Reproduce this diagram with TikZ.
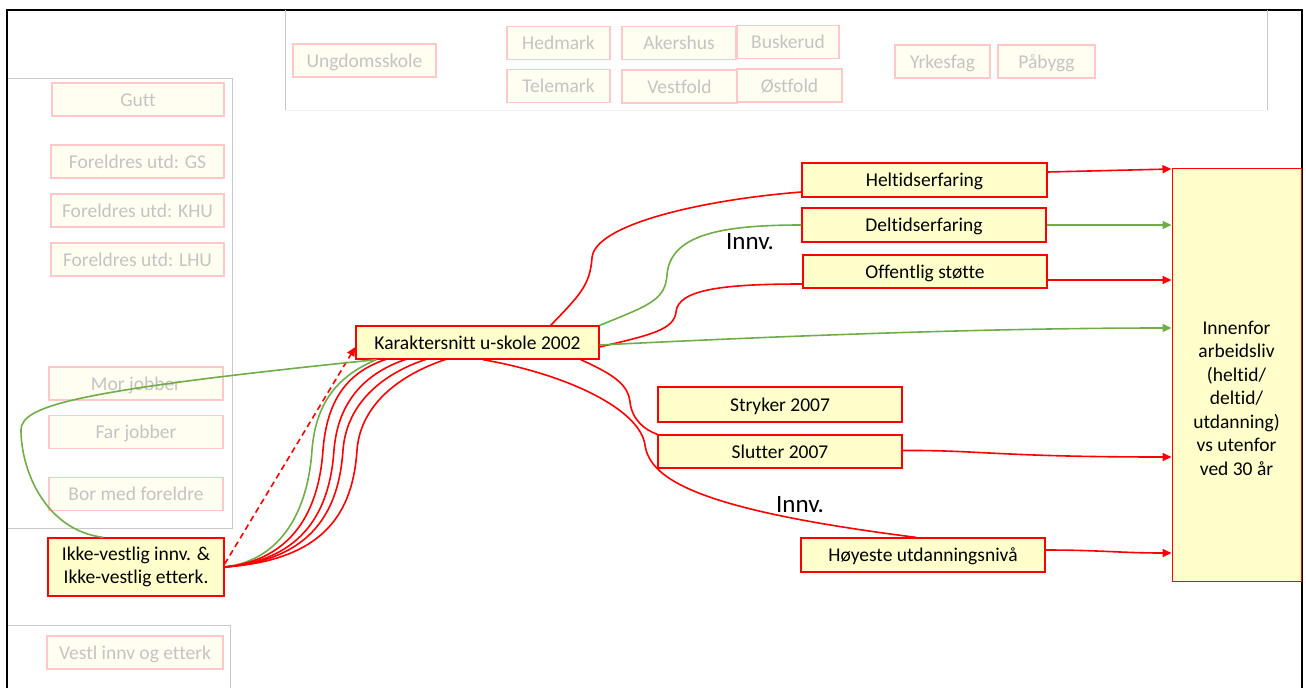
\documentclass[tikz,border=0pt]{standalone}
\usepackage{fontspec}
\setmainfont{Carlito}[Ligatures=NoCommon]
\usepackage{tikz}
\usetikzlibrary{calc,arrows.meta}

\definecolor{boxfill}{HTML}{FFFFCC}
\definecolor{fadefill}{HTML}{FFFEF0}
\definecolor{fadeline}{HTML}{FFC8C8}
\definecolor{fadetext}{HTML}{C4C4C4}
\definecolor{linkgreen}{HTML}{70AD47}
\definecolor{panelgray}{HTML}{C8C8C8}

\tikzset{
  mainbox/.style={draw=red, line width=1.3pt, fill=boxfill, inner sep=0pt, minimum height=33pt, font=\fontsize{19.5}{23.5}\selectfont},
  fadebox/.style={draw=fadeline, line width=1.2pt, fill=fadefill, text=fadetext, inner sep=0pt, minimum height=33pt, text height=13.5pt, text depth=0pt, font=\fontsize{19.5}{23.5}\selectfont},
  oneline/.style={text height=13.5pt, text depth=0pt},
  redlink/.style={red, line width=1.6pt},
  greenlink/.style={linkgreen, line width=1.6pt},
  tip/.style={-{Stealth[length=9pt,width=8pt,inset=0pt]}}
}

\begin{document}
\begin{tikzpicture}[x=1pt,y=-1pt]
	\useasboundingbox (0,0) rectangle (1306,688);
	\draw[line width=2.8pt] (7,688) -- (7,10) -- (1302,10) -- (1302,688); % frame
	\draw[panelgray, line width=1pt] (285,10) -- (285,110) (1267,10) -- (1267,110); % top panel
	\draw[panelgray!25] (285,110) -- (1267,110);
	\draw[panelgray, line width=1pt] (8,78) -- (232,78) -- (232,528) -- (8,528); % left panel
	\draw[panelgray, line width=1pt] (8,625) -- (230,625) -- (230,688);

	% faded boxes
	\node[fadebox, minimum width=143pt] (ung) at (364.5,60.5) {Ungdomsskole};
	\node[fadebox, minimum width=103pt] (hed) at (558.5,43) {Hedmark};
	\node[fadebox, minimum width=114pt] (ake) at (679,43) {Akershus};
	\node[fadebox, minimum width=102pt] (bus) at (788,42) {Buskerud};
	\node[fadebox, minimum width=103pt] (tel) at (558.5,86) {Telemark};
	\node[fadebox, minimum width=115pt] (ves) at (679.5,86.5) {Vestfold};
	\node[fadebox, minimum width=105pt] (ost) at (789.5,85.5) {Østfold};
	\node[fadebox, minimum width=95pt] (yrk) at (942.5,61.5) {Yrkesfag};
	\node[fadebox, minimum width=97pt] (pab) at (1046.5,61.5) {Påbygg};
	\node[fadebox, minimum width=172pt] (gutt) at (138,99.5) {Gutt};
	\node[fadebox, minimum width=173pt] (gs) at (137.5,161.5) {Foreldres utd: GS};
	\node[fadebox, minimum width=173pt] (khu) at (137.5,210.5) {Foreldres utd: KHU};
	\node[fadebox, minimum width=173pt] (lhu) at (137.5,259.5) {Foreldres utd: LHU};
	\node[fadebox, minimum width=174pt] (mor) at (136,383.5) {Mor jobber};
	\node[fadebox, minimum width=174pt] (far) at (136,432) {Far jobber};
	\node[fadebox, minimum width=174pt] (bor) at (136,494) {Bor med foreldre};
	\node[fadebox, minimum width=176pt] (vestl) at (135,652.5) {Vestl innv og etterk};

	% main boxes
	\node[mainbox, oneline, minimum width=243pt] (kar) at (477.5,342.5) {Karaktersnitt u-skole 2002};
	\node[mainbox, minimum width=176pt, minimum height=58pt, align=center] (ikke) at (136,567) {Ikke-vestlig innv. \&\\Ikke-vestlig etterk.};
	\node[mainbox, oneline, minimum width=245pt, minimum height=34pt] (helt) at (924.5,180) {Heltidserfaring};
	\node[mainbox, oneline, minimum width=244pt, minimum height=34pt] (delt) at (924,225) {Deltidserfaring};
	\node[mainbox, oneline, minimum width=244pt] (off) at (925,271.5) {Offentlig støtte};
	\node[mainbox, oneline, minimum width=244pt, minimum height=35pt] (stry) at (780,404.5) {Stryker 2007};
	\node[mainbox, oneline, minimum width=244pt] (slut) at (780,451.5) {Slutter 2007};
	\node[mainbox, oneline, minimum width=244pt, minimum height=34pt] (hoy) at (923,555) {Høyeste utdanningsnivå};
	\node[mainbox, line width=1pt, minimum width=129pt, minimum height=413pt] (out) at (1236.5,374.5) {};
	\node[align=center, font=\fontsize{19.5}{23.5}\selectfont] (outtext) at (1236.5,398) {Innenfor\\arbeidsliv\\(heltid/\\deltid/\\utdanning)\\vs utenfor\\ved 30 år};
	\node[font=\fontsize{25}{30}\selectfont] (innvA) at (750,242) {Innv.};
	\node[font=\fontsize{25}{30}\selectfont] (innvB) at (800,505) {Innv.};

	% from Ikke-vestlig to Karaktersnitt
	\draw[redlink, dash pattern=on 6pt off 4pt, tip] ([yshift=3pt]ikke.east) -- ([yshift=-4.5pt]kar.west);
	\draw[greenlink] (ikke.east) .. controls (282,560) and (308,510) .. (312,450) .. controls (316,400) and (340,375) .. ([xshift=21pt]kar.south west);
	\foreach \mx/\ex in {323/387, 334/407, 343/427, 357/447}
	    \draw[redlink] (ikke.east) .. controls (\mx-30,560) and (\mx-4,510) .. (\mx,450) .. controls (\mx+4,400) and (\ex-40,372) .. (\ex,359);
	\draw[greenlink] ([xshift=-33pt]ikke.north) .. controls (45,530) and (21,470) .. (21,430) .. controls (21,405) and (80,390) .. ([xshift=21pt]kar.south west);

	% from Karaktersnitt to the middle boxes
	\draw[redlink] ([xshift=-49pt]kar.north east) .. controls (580,295) and (590,285) .. (592,258) .. controls (594,225) and (700,200) .. ([yshift=-12pt]helt.west);
	\draw[greenlink] (kar.north east) .. controls (650,305) and (665,300) .. (667,275) .. controls (670,235) and (720,225) .. (delt.west);
	\draw[redlink] ([yshift=-4.5pt]kar.east) .. controls (650,335) and (674,330) .. (676,312) .. controls (678,290) and (720,284) .. ([yshift=-12.5pt]off.west);
	\draw[redlink] ([xshift=-19pt]kar.south east) .. controls (615,375) and (628,385) .. (630,402) .. controls (632,420) and (645,430) .. (slut.north west);
	\draw[redlink] ([xshift=5.5pt]kar.south) .. controls (570,375) and (640,410) .. (645,445) .. controls (650,480) and (700,510) .. ([xshift=-7pt]hoy.north);

	% into the outcome box
	\draw[greenlink, tip] ([yshift=-2.5pt]kar.east) .. controls (800,335) and (1000,328) .. (out.west |- 0,328);
	\draw[redlink, tip] ([yshift=8pt]helt.east) -- (out.west |- 0,169);
	\draw[greenlink, tip] (delt.east) -- (out.west |- delt.east);
	\draw[redlink, tip] ([yshift=-8.5pt]off.east) -- (out.west |- 0,280);
	\draw[redlink, tip] ([yshift=1pt]slut.east) .. controls (980,450) and (1000,457) .. (out.west |- 0,457);
	\draw[redlink, tip] ([yshift=5pt]hoy.east) .. controls (1100,550) and (1120,553) .. (out.west |- 0,553);
\end{tikzpicture}
\end{document}
